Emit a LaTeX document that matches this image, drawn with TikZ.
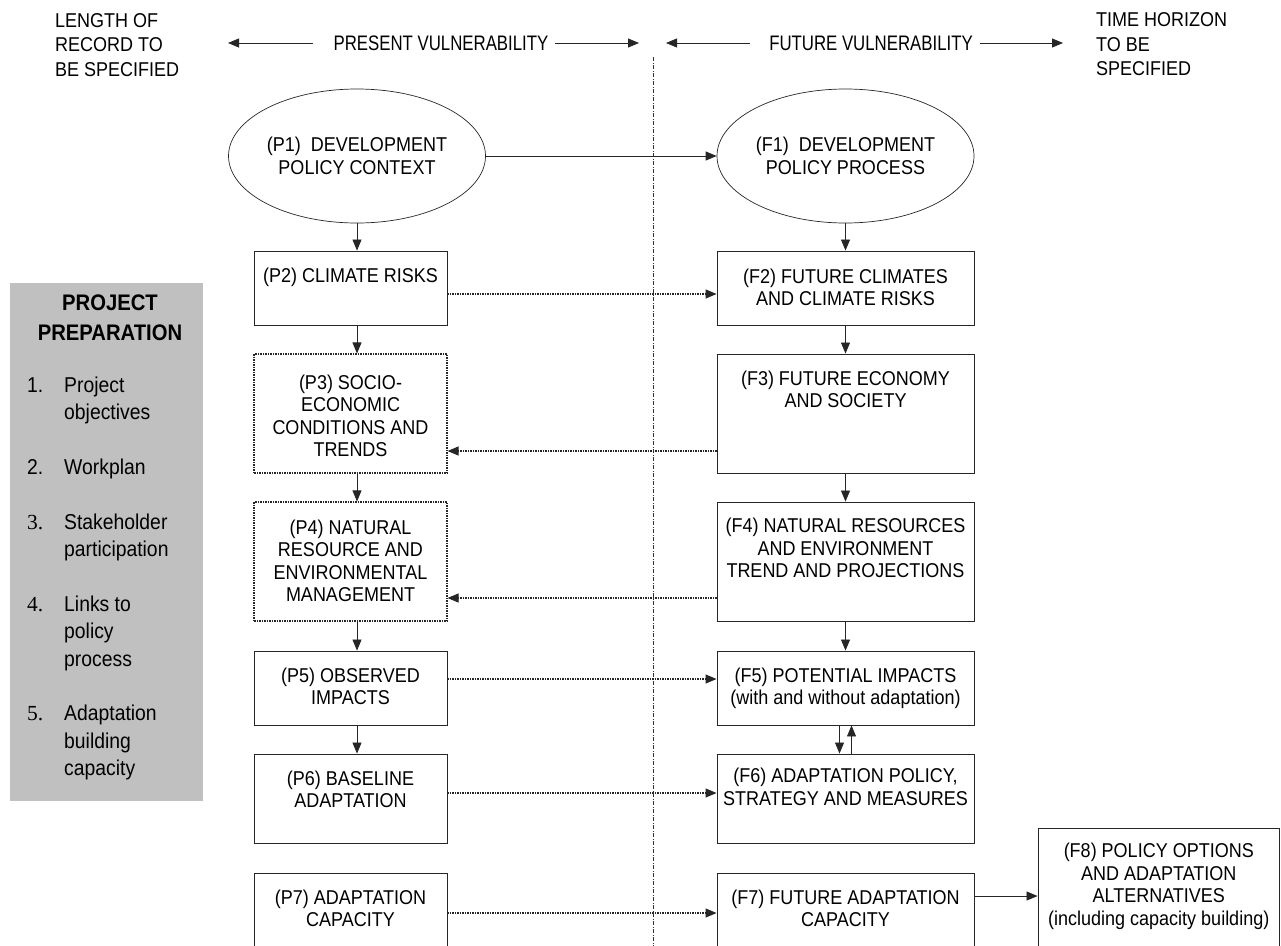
\documentclass[tikz,border=0pt]{standalone}
\usepackage{fontspec}
\setmainfont[FakeStretch=0.9]{Liberation Sans}
\newfontfamily\numfont{Liberation Serif}
\newfontfamily\condfont[FakeStretch=0.8]{Liberation Sans}
\usetikzlibrary{shapes.geometric,arrows.meta,positioning}
\definecolor{prepgray}{RGB}{192,192,192}
\begin{document}
\begin{tikzpicture}[x=1pt,y=1pt]
        \tikzstyle{policy}=[ellipse,draw=black!85,line width=0.7pt,minimum width=257,minimum height=134,inner sep=0,align=center,font=\fontsize{20}{23}\selectfont]
        \tikzstyle{stage}=[rectangle,draw=black!85,line width=0.9pt,inner sep=0]
        \tikzstyle{pstage}=[stage,minimum width=193]
        \tikzstyle{fstage}=[stage,minimum width=257]
        \tikzstyle{pdotstage}=[pstage,dash pattern=on 1.5pt off 1pt,line width=1.1pt]
        \tikzstyle{boxtxt}=[align=center,inner sep=0,font=\fontsize{20}{22.5}\selectfont]
        \tikzstyle{head}=[align=left,inner sep=0,font=\fontsize{20}{24.5}\selectfont]
        \tikzstyle{vuln}=[inner sep=0,font=\condfont\fontsize{21}{22}\selectfont]
        \tikzstyle{prep}=[rectangle,fill=prepgray,minimum width=193,minimum height=518,inner sep=0]
        \tikzstyle{link}=[draw=black!85,line width=0.8pt,-{Triangle[length=11pt,width=9pt]}]
        \tikzstyle{dotlink}=[link,dash pattern=on 1.5pt off 1pt,line width=1.1pt]
        \tikzstyle{divider}=[draw=black!80,line width=0.6pt,dash pattern=on 4pt off 1.5pt on 1pt off 1.5pt]
        \useasboundingbox (0,0) rectangle (1281,-945);
        % header
        \node[head,anchor=north west] (record) at (55,-13) {LENGTH OF\\RECORD TO\\BE SPECIFIED};
        \node[head,anchor=north west] (horizon) at (1096,-12.5) {TIME HORIZON\\TO BE\\SPECIFIED};
        \node[vuln] (present) at (441,-43) {PRESENT VULNERABILITY};
        \node[vuln] (future) at (871,-43) {FUTURE VULNERABILITY};
        \coordinate (presl) at (228,-43);
        \coordinate (presr) at (639,-43);
        \coordinate (futl) at (666,-43);
        \coordinate (futr) at (1063,-43);
        \path[link] ([xshift=-20]present.west) -- (presl);
        \path[link] ([xshift=6]present.east) -- (presr);
        \path[link] ([xshift=-19]future.west) -- (futl);
        \path[link] ([xshift=7]future.east) -- (futr);
        \coordinate (divtop) at (653,-57);
        \coordinate (divbot) at (653,-946);
        \path[divider] (divtop) -- (divbot);
        % project preparation
        \node[prep] (prep) at (106.5,-542) {};
        \node[boxtxt,anchor=north,font=\fontsize{22.5}{30}\selectfont\bfseries] (preptitle) at (110,-295) {PROJECT\\PREPARATION};
        \node[inner sep=0,anchor=north west,font=\fontsize{21.5}{27.4}\selectfont] (preplist) at (27,-372.8) {%
          \begin{tabular}{@{}p{37pt}@{}l@{}}
          1. & Project\\ & objectives\\ & \\
          2. & Workplan\\ & \\
          \numfont 3. & Stakeholder\\ & participation\\ & \\
          \numfont 4. & Links to\\ & policy\\ & process\\ & \\
          \numfont 5. & Adaptation\\ & building\\ & capacity
          \end{tabular}};
        % present vulnerability
        \node[policy] (p1) at (357,-156) {(P1)~ DEVELOPMENT\\POLICY CONTEXT};
        \node[pstage,minimum height=74] (p2) at (350.5,-288) {};
        \node[pdotstage,minimum height=119] (p3) at (350.5,-413.5) {};
        \node[pdotstage,minimum height=119] (p4) at (350.5,-561.5) {};
        \node[pstage,minimum height=74] (p5) at (350.5,-688) {};
        \node[pstage,minimum height=89] (p6) at (350.5,-798.5) {};
        \node[pstage,minimum height=77] (p7) at (350.5,-911.5) {};
        \node[boxtxt,below=17pt of p2.north] (p2t) {(P2) CLIMATE RISKS};
        \node[boxtxt,below=21pt of p3.north] (p3t) {(P3) SOCIO-\\ECONOMIC\\CONDITIONS AND\\TRENDS};
        \node[boxtxt,below=18pt of p4.north] (p4t) {(P4) NATURAL\\RESOURCE AND\\ENVIRONMENTAL\\MANAGEMENT};
        \node[boxtxt,below=17pt of p5.north] (p5t) {(P5) OBSERVED\\IMPACTS};
        \node[boxtxt,below=17pt of p6.north] (p6t) {(P6) BASELINE\\ADAPTATION};
        \node[boxtxt,below=17pt of p7.north] (p7t) {(P7) ADAPTATION\\CAPACITY};
        % future vulnerability
        \node[policy] (f1) at (845.5,-156) {(F1)~ DEVELOPMENT\\POLICY PROCESS};
        \node[fstage,minimum height=74] (f2) at (845.5,-288) {};
        \node[fstage,minimum height=119] (f3) at (845.5,-413.5) {};
        \node[fstage,minimum height=119] (f4) at (845.5,-561.5) {};
        \node[fstage,minimum height=74] (f5) at (845.5,-688) {};
        \node[fstage,minimum height=89] (f6) at (845.5,-798.5) {};
        \node[fstage,minimum height=77] (f7) at (845.5,-911.5) {};
        \node[stage,minimum width=241.5,minimum height=122] (f8) at (1158.75,-889) {};
        \node[boxtxt,below=18pt of f2.north] (f2t) {(F2) FUTURE CLIMATES\\AND CLIMATE RISKS};
        \node[boxtxt,below=17pt of f3.north] (f3t) {(F3) FUTURE ECONOMY\\AND SOCIETY};
        \node[boxtxt,below=16.5pt of f4.north] (f4t) {(F4) NATURAL RESOURCES\\AND ENVIRONMENT\\TREND AND PROJECTIONS};
        \node[boxtxt,below=17pt of f5.north] (f5t) {(F5) POTENTIAL IMPACTS\\(with and without adaptation)};
        \node[boxtxt,below=14.5pt of f6.north] (f6t) {(F6) ADAPTATION POLICY,\\STRATEGY AND MEASURES};
        \node[boxtxt,below=17pt of f7.north] (f7t) {(F7) FUTURE ADAPTATION\\CAPACITY};
        \node[boxtxt,below=15.5pt of f8.north] (f8t) {(F8) POLICY OPTIONS\\AND ADAPTATION\\ALTERNATIVES\\(including capacity building)};
        % links
        \path[link] (p1) -- (f1);
        \path[link] (p1.south) -- (p1.south |- p2.north);
        \path[link] (p2.south -| p1) -- (p3.north -| p1);
        \path[link] (p3.south -| p1) -- (p4.north -| p1);
        \path[link] (p4.south -| p1) -- (p5.north -| p1);
        \path[link] (p5.south -| p1) -- (p6.north -| p1);
        \path[link] (f1) -- (f2);
        \path[link] (f2) -- (f3);
        \path[link] (f3) -- (f4);
        \path[link] (f4) -- (f5);
        \path[link] ([xshift=-6]f5.south) -- ([xshift=-6]f6.north);
        \path[link] ([xshift=6]f6.north) -- ([xshift=6]f5.south);
        \path[link] ([yshift=15.5]f7.east) -- ([yshift=15.5]f7.east -| f8.west);
        \path[dotlink] ([yshift=-6]p2.east) -- ([yshift=-6]f2.west);
        \path[dotlink] ([yshift=-37.5]f3.west) -- ([yshift=-37.5]p3.east);
        \path[dotlink] ([yshift=-36.5]f4.west) -- ([yshift=-36.5]p4.east);
        \path[dotlink] ([yshift=9]p5.east) -- ([yshift=9]f5.west);
        \path[dotlink] ([yshift=5.5]p6.east) -- ([yshift=5.5]f6.west);
        \path[dotlink] ([yshift=-1.5]p7.east) -- ([yshift=-1.5]f7.west);
\end{tikzpicture}
\end{document}
